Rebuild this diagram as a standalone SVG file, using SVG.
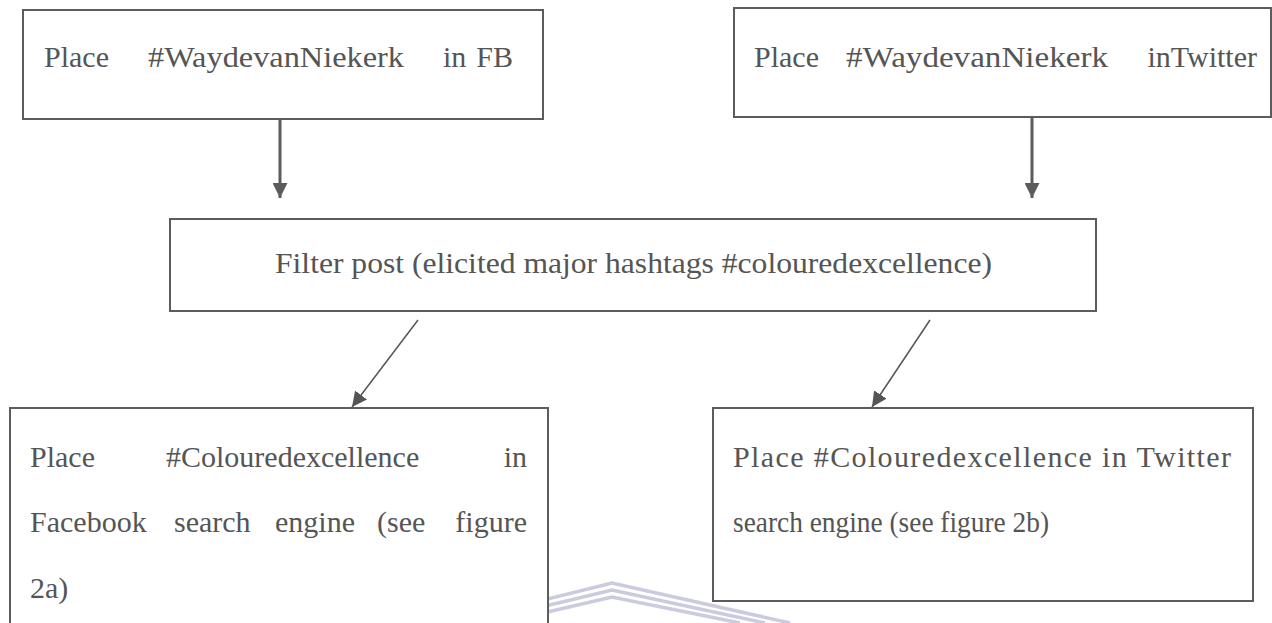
<svg xmlns="http://www.w3.org/2000/svg" width="1272" height="623" viewBox="0 0 1272 623">
  <defs>
    <style>
      .box { fill: #ffffff; stroke: #5c5c5c; stroke-width: 2; }
      .t { font-family: 'Liberation Serif', 'Times New Roman', serif; font-size: 30px; fill: #555555; }
      .e { text-anchor: end; }
      .vline { stroke: #5c5c5c; stroke-width: 3; fill: none; }
      .dline { stroke: #555555; stroke-width: 1.5; fill: none; }
      .wm { stroke: #c4c5dc; stroke-width: 3.5; fill: none; opacity: 0.9; }
    </style>
    <marker id="ahBig" viewBox="0 0 10 10" refX="10" refY="5" markerWidth="5" markerHeight="5" markerUnits="strokeWidth" orient="auto">
      <path d="M0,0 L10,5 L0,10 Z" fill="#5c5c5c"/>
    </marker>
    <marker id="ahSmall" viewBox="0 0 10 10" refX="10" refY="5" markerWidth="10" markerHeight="10" markerUnits="strokeWidth" orient="auto">
      <path d="M0,0 L10,5 L0,10 Z" fill="#555555"/>
    </marker>
  </defs>
  <rect width="1272" height="623" fill="#ffffff"/>

  <g id="watermark">
    <polyline class="wm" points="450,623 612,583 790,623"/>
    <polyline class="wm" points="475,623 612,590 765,623"/>
    <polyline class="wm" points="500,623 612,597 740,623"/>
  </g>

  <g id="node-fb">
    <rect class="box" x="23" y="10" width="520" height="109"/>
    <text class="t" x="44" y="67">Place</text>
    <text class="t" x="148" y="67" textLength="256" lengthAdjust="spacingAndGlyphs">#WaydevanNiekerk</text>
    <text class="t" x="443" y="67">in</text>
    <text class="t e" x="513" y="67">FB</text>
  </g>

  <g id="node-twitter">
    <rect class="box" x="734" y="8" width="537" height="109"/>
    <text class="t" x="754" y="67">Place</text>
    <text class="t" x="846" y="67" textLength="262" lengthAdjust="spacingAndGlyphs">#WaydevanNiekerk</text>
    <text class="t e" x="1257" y="67">inTwitter</text>
  </g>

  <g id="node-filter">
    <rect class="box" x="170" y="219" width="926" height="92"/>
    <text class="t" x="275" y="273" textLength="717" lengthAdjust="spacingAndGlyphs">Filter post (elicited major hashtags #colouredexcellence)</text>
  </g>

  <g id="node-fb-search">
    <path class="box" d="M10,623 L10,408 L548,408 L548,623"/>
    <text class="t" x="30" y="467">Place</text>
    <text class="t" x="166" y="467">#Colouredexcellence</text>
    <text class="t e" x="527" y="467">in</text>
    <text class="t" x="30" y="532">Facebook</text>
    <text class="t" x="174" y="532">search</text>
    <text class="t" x="275" y="532">engine</text>
    <text class="t" x="377" y="532">(see</text>
    <text class="t e" x="527" y="532">figure</text>
    <text class="t" x="30" y="598">2a)</text>
  </g>

  <g id="node-tw-search">
    <rect class="box" x="713" y="408" width="540" height="193"/>
    <text class="t" x="733" y="467" textLength="498" lengthAdjust="spacing">Place #Colouredexcellence in Twitter</text>
    <text class="t" x="733" y="532" textLength="316" lengthAdjust="spacingAndGlyphs">search engine (see figure 2b)</text>
  </g>

  <g id="connectors">
    <line class="vline" x1="280" y1="119" x2="280" y2="198" marker-end="url(#ahBig)"/>
    <line class="vline" x1="1032" y1="117" x2="1032" y2="198" marker-end="url(#ahBig)"/>
    <line class="dline" x1="418" y1="320" x2="352" y2="407" marker-end="url(#ahSmall)"/>
    <line class="dline" x1="930" y1="320" x2="872" y2="407" marker-end="url(#ahSmall)"/>
  </g>
</svg>
